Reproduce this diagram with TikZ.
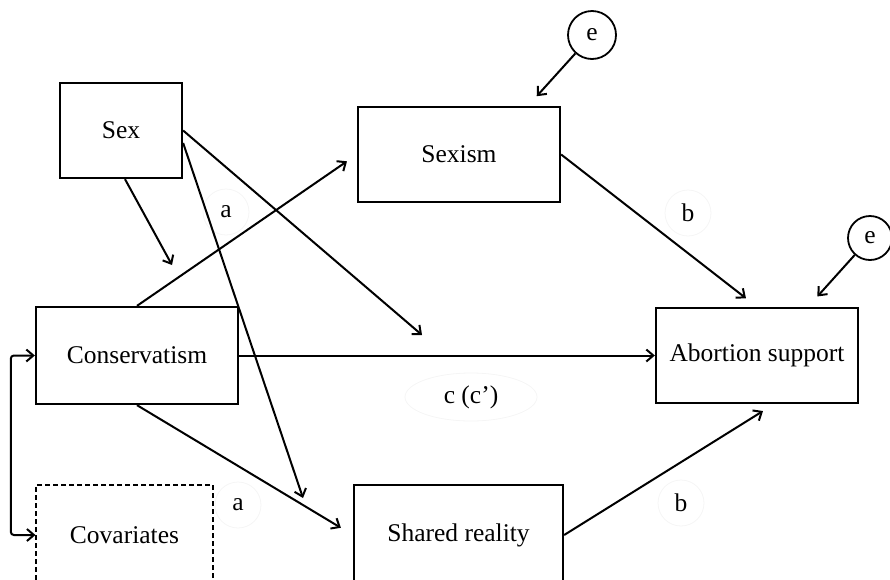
\documentclass[tikz,border=0pt]{standalone}
\usepackage{fontspec}
\setmainfont{Liberation Serif}
\usetikzlibrary{arrows.meta,shapes.geometric}
\tikzstyle{var} = [draw=black, line width=2.3pt, rectangle, inner sep=0pt, minimum width=202pt, minimum height=95pt]
\tikzstyle{cov} = [var, line width=1.1pt, dash pattern=on 5pt off 3pt]
\tikzstyle{err} = [draw=black, line width=1.8pt, circle, inner sep=0pt, minimum size=48pt]
\tikzstyle{coef} = [draw=black!4, line width=0.8pt, circle, inner sep=0pt, minimum size=46pt]
\tikzstyle{eff} = [->, line width=2pt]

\begin{document}
\begin{tikzpicture}[x=1pt, y=-1pt, >={Straight Barb[length=7pt,width=12pt]},
    font=\fontsize{25.5}{30}\selectfont]
        \useasboundingbox (0,0) rectangle (890,579);
        \clip (0,0) rectangle (890,579);
        \node[var,minimum width=122pt](sex) at (121,130.5){Sex};
        \node[var](sexism) at (459,154.5){Sexism};
        \node[var,minimum height=97pt](cons) at (137,355.5){Conservatism};
        \node[cov,minimum width=177pt,minimum height=100pt](cov) at (124.5,535){Covariates};
        \node[var,minimum width=209pt,minimum height=100pt](shared) at (458.5,535){Shared reality};
        \node[var](abort) at (757,355.5){Abortion support};
        \node[err](e1) at (592,35){e};
        \node[err,minimum size=44pt](e2) at (870,238){e};
        \node[coef](a1) at (226,212){a};
        \node[coef](a2) at (238,505){a};
        \node[coef](b1) at (688,213){b};
        \node[coef](b2) at (681,503){b};
        \node[draw=black!4,line width=0.8pt,ellipse,minimum width=132pt,minimum height=48pt,inner sep=0pt](c) at (471,397){c (c')};
        \coordinate (m1) at (172,265);
        \coordinate (m2) at (422,335);
        \coordinate (m3) at (303,498);
        \draw[eff,shorten >=13pt](e1)--([xshift=69pt]sexism.north);
        \draw[eff,shorten >=14pt](e2)--([xshift=51pt]abort.north);
        \draw[eff,shorten >=14pt](sexism.east)--(abort.north);
        \draw[eff,shorten >=13pt](shared.east)--([xshift=17pt]abort.south);
        \draw[eff](cons.east)--(abort.west);
        \draw[eff,shorten >=12pt](cons.north)--(sexism.west);
        \draw[eff,shorten >=14pt](cons.south)--(shared.west);
        \draw[eff]([xshift=4pt]sex.south)--(m1);
        \draw[eff](sex.east)--(m2);
        \draw[eff]([yshift=-12.5pt]sex.east)--(m3);
        \draw[<->,line width=2pt,rounded corners=3pt](cons.west)--++(-24,0)|-(cov.west);
      \end{tikzpicture}
\end{document}
